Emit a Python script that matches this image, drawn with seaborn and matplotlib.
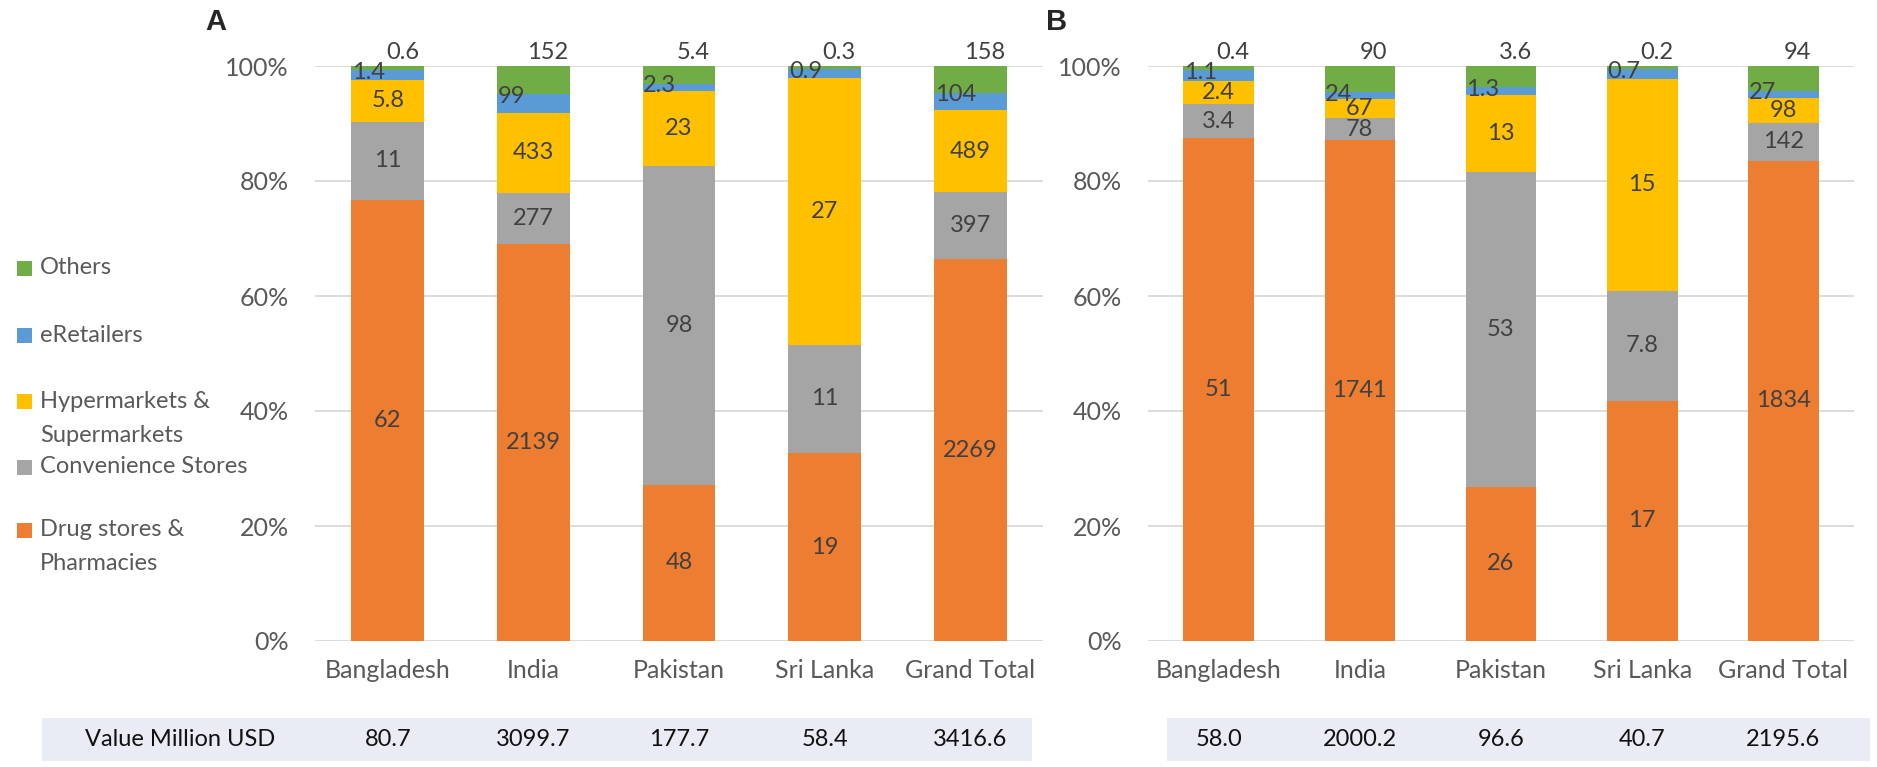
import pandas as pd
import seaborn as sns
import matplotlib.pyplot as plt
from matplotlib.patches import Rectangle
from matplotlib.transforms import blended_transform_factory

# categories and channels
countries = ['Bangladesh', 'India', 'Pakistan', 'Sri Lanka', 'Grand Total']
channels = ['Drug stores & Pharmacies', 'Convenience Stores',
            'Hypermarkets & Supermarkets', 'eRetailers', 'Others']
colors = ['#ED7D31', '#A5A5A5', '#FFC000', '#5B9BD5', '#70AD47']

# panel A values (million USD)
drug_a = [62, 2139, 48, 19, 2269]
conv_a = [11, 277, 98, 11, 397]
hyper_a = [5.8, 433, 23, 27, 489]
eret_a = [1.4, 99, 2.3, 0.9, 104]
others_a = [0.6, 152, 5.4, 0.3, 158]
total_a = ['80.7', '3099.7', '177.7', '58.4', '3416.6']

# panel B values (million USD)
drug_b = [51, 1741, 26, 17, 1834]
conv_b = [3.4, 78, 53, 7.8, 142]
hyper_b = [2.4, 67, 13, 15, 98]
eret_b = [1.1, 24, 1.3, 0.7, 27]
others_b = [0.4, 90, 3.6, 0.2, 94]
total_b = ['58.0', '2000.2', '96.6', '40.7', '2195.6']

sns.set_style('white')
plt.rcParams['font.family'] = ['Lato', 'DejaVu Sans']

W, H = 1877, 767
fig = plt.figure(figsize=(W / 100, H / 100), dpi=100)

def px(x0, y0, x1, y1):
    # pixel box -> figure fraction rect
    return [x0 / W, 1 - y1 / H, (x1 - x0) / W, (y1 - y0) / H]

ax_a = fig.add_axes(px(315, 66, 1043, 641))
ax_b = fig.add_axes(px(1148, 66, 1854, 641))

label_col = '#404040'
tick_col = '#595959'


def draw_panel(ax, series, totals, table_x0, table_x1):
    df = pd.DataFrame(dict(zip(channels, series)), index=countries)
    share = df.div(df.sum(axis=1), axis=0) * 100
    cum = share.cumsum(axis=1)

    # stacked bars: draw cumulative tops, largest first
    for ch, col in reversed(list(zip(channels, colors))):
        sns.barplot(x=countries, y=cum[ch].values, color=col, width=0.5,
                    saturation=1, ax=ax, zorder=2, linewidth=0,
                    edgecolor='none')

    for i, c in enumerate(countries):
        for ch in channels:
            txt = f'{df.loc[c, ch]:g}'
            top = cum.loc[c, ch]
            mid = top - share.loc[c, ch] / 2
            if ch == 'Others':
                ax.text(i + 0.1, 102.3, txt, ha='center', va='center',
                        fontsize=17, color=label_col, zorder=5)
            elif ch == 'eRetailers':
                ax.text(i - 0.245, top - 0.4, txt, ha='left', va='center',
                        fontsize=17, color=label_col, zorder=5)
            else:
                ax.text(i, mid, txt, ha='center', va='center',
                        fontsize=17, color=label_col, zorder=5)

    ax.set_xlim(-0.5, 4.5)
    ax.set_ylim(0, 100)
    ax.set_yticks(range(0, 101, 20))
    ax.set_yticklabels([f'{t}%' for t in range(0, 101, 20)])
    ax.yaxis.grid(True, color='#D9D9D9', lw=1.3, zorder=0)
    ax.set_axisbelow(True)
    sns.despine(ax=ax, left=True, bottom=True)
    ax.tick_params(axis='y', length=0, pad=19, labelsize=18, labelcolor=tick_col)
    ax.tick_params(axis='x', length=0, pad=13, labelsize=18, labelcolor=tick_col)
    ax.set_xlabel('')
    ax.set_ylabel('')

    # value row underneath
    fig.add_artist(Rectangle((table_x0 / W, 1 - 761 / H), (table_x1 - table_x0) / W,
                             43 / H, transform=fig.transFigure,
                             facecolor='#E9EBF5', edgecolor='none', zorder=0))
    tr = blended_transform_factory(ax.transData, fig.transFigure)
    for i, t in enumerate(totals):
        ax.text(i, 1 - 740 / H, t, transform=tr, ha='center', va='center',
                fontsize=17, color='#111111')


draw_panel(ax_a, [drug_a, conv_a, hyper_a, eret_a, others_a], total_a, 42, 1032)
draw_panel(ax_b, [drug_b, conv_b, hyper_b, eret_b, others_b], total_b, 1167, 1870)

fig.text(180 / W, 1 - 740 / H, 'Value Million USD', ha='center', va='center',
         fontsize=17, color='#111111')

# panel letters
fig.text(216 / W, 1 - 22 / H, 'A', ha='center', va='center', fontsize=21,
         fontweight='bold', family='Liberation Sans')
fig.text(1057 / W, 1 - 22 / H, 'B', ha='center', va='center', fontsize=21,
         fontweight='bold', family='Liberation Sans')

# legend on the left (top to bottom as in the source)
legend_items = [('Others', colors[4], 268),
                ('eRetailers', colors[3], 335),
                ('Hypermarkets &\nSupermarkets', colors[2], 401),
                ('Convenience Stores', colors[1], 467),
                ('Drug stores &\nPharmacies', colors[0], 530)]
for text, col, y in legend_items:
    fig.add_artist(Rectangle((17 / W, 1 - (y + 8) / H), 15 / W, 15 / H,
                             transform=fig.transFigure, facecolor=col,
                             edgecolor='none'))
    for j, line in enumerate(text.split('\n')):
        fig.text(40 / W, 1 - (y + j * 34) / H, line, ha='left', va='center',
                 fontsize=17, color=tick_col)

fig.savefig('out.png', dpi=100)
